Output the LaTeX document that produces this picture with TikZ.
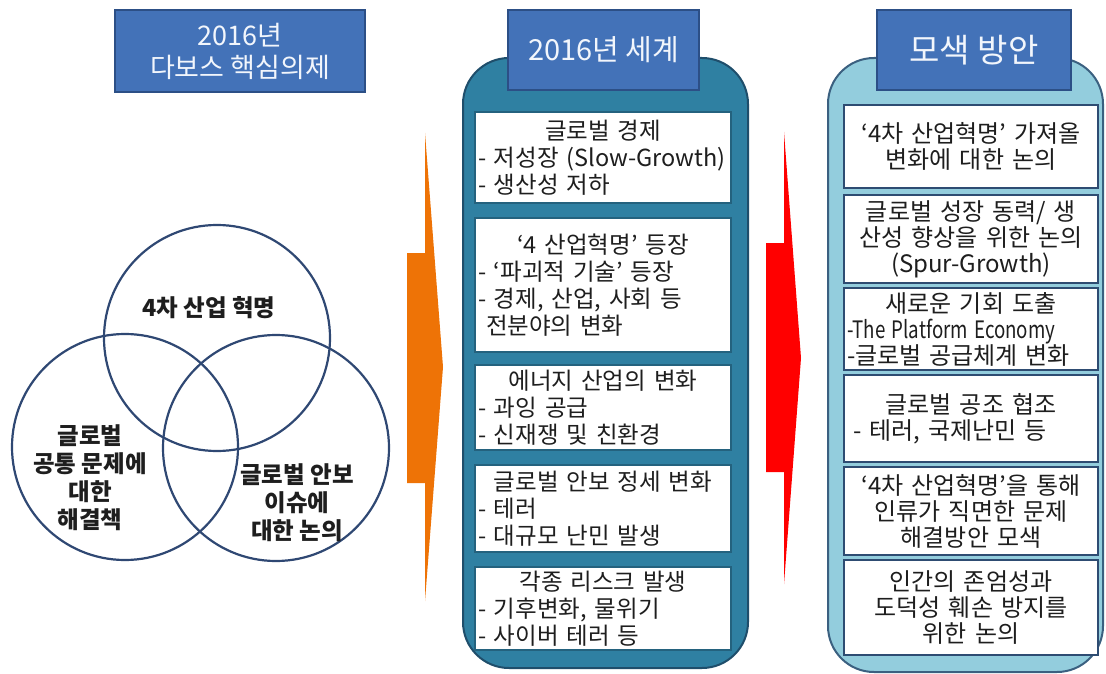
\documentclass[tikz,border=0pt]{standalone}
\usepackage{fontspec}
\usepackage{graphicx}
\setmainfont{Noto Sans CJK KR}
\definecolor{hdrfill}{HTML}{4372B8}
\definecolor{hdrdraw}{HTML}{2C4F86}
\definecolor{hdrtext}{HTML}{F2F6FC}
\definecolor{cpfill}{HTML}{2F80A2}
\definecolor{cpdraw}{HTML}{1F4E6B}
\definecolor{cbdraw}{HTML}{24627E}
\definecolor{rpfill}{HTML}{93CDDD}
\definecolor{rpdraw}{HTML}{3B6080}
\definecolor{rbdraw}{HTML}{2E4C72}
\definecolor{circ}{HTML}{2F4873}
\definecolor{txt}{HTML}{1E1E1E}
\definecolor{orng}{HTML}{EE7306}
\definecolor{rred}{HTML}{FF0000}
\tikzset{
  hdr/.style={draw=hdrdraw, fill=hdrfill, line width=1.5pt, text=hdrtext, align=center, inner sep=0pt},
  cbox/.style={draw=cbdraw, fill=white, line width=2.5pt, text=txt, text width=250pt, inner xsep=3pt, inner ysep=0pt, minimum width=256pt, align=left, font=\fontsize{23.5}{27}\selectfont},
  rbox/.style={draw=rbdraw, fill=white, line width=2.5pt, text=txt, text width=248pt, inner xsep=3pt, inner ysep=0pt, minimum width=254pt, align=left, font=\fontsize{24}{26}\selectfont},
  venn/.style={circle, draw=circ, line width=2.2pt, minimum size=226pt, inner sep=0pt},
  vtext/.style={text=txt, align=center, font=\fontsize{23.5}{28}\selectfont\bfseries},
  panel/.style={rounded corners=46pt, line width=2pt}
}
\begin{document}
\begin{tikzpicture}[x=1pt,y=-1pt]
\useasboundingbox (0,0) rectangle (1106,674);
% Venn circles
\node[venn] (ctop) at (217,338) {};
\node[venn] (cleft) at (125,447) {};
\node[venn] (cright) at (276,448) {};
\node[vtext] (ttop) at (209,308) {4차 산업 혁명};
\node[vtext] (tleft) at (90,478) {글로벌\\공통 문제에\\대한\\해결책};
\node[vtext] (tright) at (297,503) {글로벌 안보\\이슈에\\대한 논의};
% header 1
\node[hdr, minimum width=250pt, minimum height=82pt, font=\fontsize{27}{32}\selectfont] (h1) at (240,51) {2016년\\다보스 핵심의제};
% arrows
\fill[orng] (407,253) -- (425,253) -- (425,133) -- (443,367) -- (425,601) -- (425,483) -- (407,483) -- cycle;
\fill[rred] (766,243) -- (784,243) -- (784,132) -- (801,358) -- (784,584) -- (784,472) -- (766,472) -- cycle;
% center panel
\draw[panel, fill=cpfill, draw=cpdraw] (463,58) rectangle (748,668);
\node[hdr, minimum width=191pt, minimum height=80pt, font=\fontsize{29}{34}\selectfont] (h2) at (603.5,50) {2016년 세계};
\node[cbox, minimum height=91pt] (c1) at (603,157.5) {{\centering 글로벌 경제\par}- 저성장 (Slow-Growth)\par - 생산성 저하};
\node[cbox, minimum height=134pt] (c2) at (603,285) {{\centering ‘4 산업혁명’ 등장\par}- ‘파괴적 기술’ 등장\par - 경제, 산업, 사회 등\par \hspace*{8pt}전분야의 변화};
\node[cbox, minimum height=85pt] (c3) at (603,407.5) {{\centering 에너지 산업의 변화\par}- 과잉 공급\par - 신재쟁 및 친환경};
\node[cbox, minimum height=87pt] (c4) at (603,508.5) {{\centering 글로벌 안보 정세 변화\par}- 테러\par - 대규모 난민 발생};
\node[cbox, minimum height=83pt] (c5) at (603,608.5) {{\centering 각종 리스크 발생\par}- 기후변화, 물위기\par - 사이버 테러 등};
% right panel
\draw[panel, fill=rpfill, draw=rpdraw] (828,58) rectangle (1103,672);
\node[hdr, minimum width=194pt, minimum height=80pt, font=\fontsize{33}{38}\selectfont] (h3) at (974,50) {모색 방안};
\node[rbox, minimum height=83pt] (r1) at (971,146.5) {{\centering ‘4차 산업혁명’ 가져올\par 변화에 대한 논의\par}};
\node[rbox, minimum height=88pt] (r2) at (971,239) {{\centering 글로벌 성장 동력/ 생\par 산성 향상을 위한 논의\par (Spur-Growth)\par}};
\node[rbox, minimum height=82pt] (r3) at (971,329) {{\centering 새로운 기회 도출\par}\scalebox{0.78}[1]{-The Platform Economy}\par -글로벌 공급체계 변화};
\node[rbox, minimum height=87pt] (r4) at (971,418.5) {{\centering 글로벌 공조 협조\par}\hspace*{6pt}- 테러, 국제난민 등};
\node[rbox, minimum height=88pt] (r5) at (971,511) {{\centering ‘4차 산업혁명’을 통해\par 인류가 직면한 문제\par 해결방안 모색\par}};
\node[rbox, minimum height=95pt] (r6) at (971,607.5) {{\centering 인간의 존엄성과\par 도덕성 훼손 방지를\par 위한 논의\par}};
\end{tikzpicture}
\end{document}
